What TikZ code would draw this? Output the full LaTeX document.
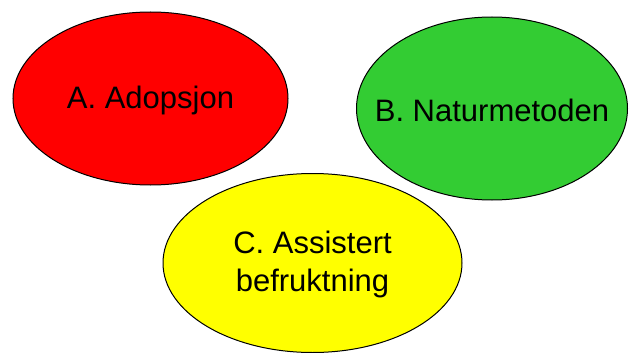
\documentclass[tikz,border=0pt]{standalone}
\usepackage{fontspec}
\setmainfont{Liberation Sans}
\usetikzlibrary{shapes.geometric}
\definecolor{cred}{HTML}{FF0000}
\definecolor{cgreen}{HTML}{33CC33}
\definecolor{cyellow}{HTML}{FFFF00}
\begin{document}
\begin{tikzpicture}[x=1pt,y=-1pt,
  blob/.style={ellipse,draw=black,line width=1pt,inner sep=0pt},
  lbl/.style={align=center,inner sep=0pt,font=\fontsize{31}{38}\selectfont}]
\useasboundingbox (0,0) rectangle (629,353);
\node[blob,fill=cred,minimum width=275pt,minimum height=173pt] (a) at (150.5,98.5) {};
\node[blob,fill=cgreen,minimum width=271pt,minimum height=183pt] (b) at (492,108.5) {};
\node[blob,fill=cyellow,minimum width=299pt,minimum height=179pt] (c) at (312.5,263) {};
\node[lbl,yshift=-2pt] (ta) at (a.center) {A. Adopsjon};
\node[lbl,yshift=-2pt] (tb) at (b.center) {B. Naturmetoden};
\node[lbl,yshift=-1pt] (tc) at (c.center) {C. Assistert\\befruktning};
\end{tikzpicture}
\end{document}
